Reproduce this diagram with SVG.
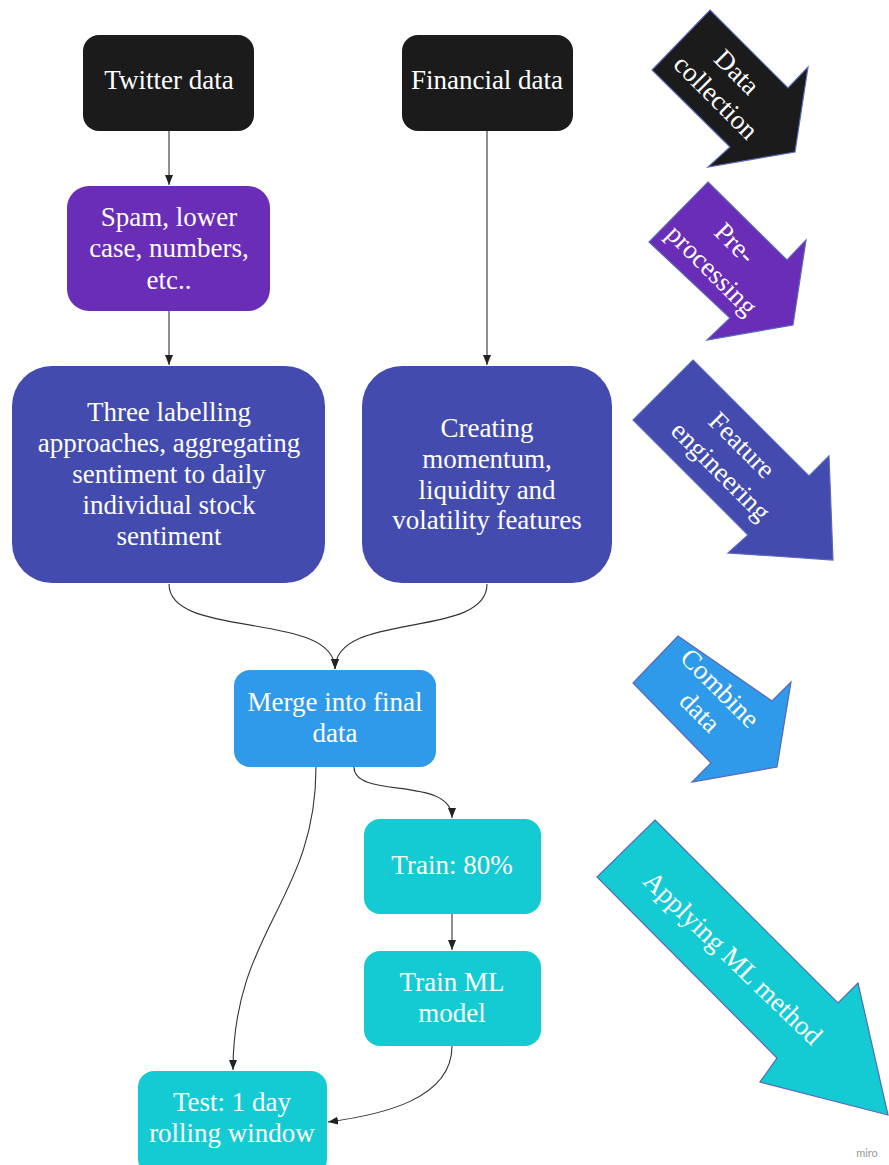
<svg xmlns="http://www.w3.org/2000/svg" width="889" height="1165" viewBox="0 0 889 1165">
<defs>
<style>
.t{font-family:"Liberation Serif","Times New Roman",serif;font-size:27px;fill:#ffffff;text-anchor:middle}
.c{fill:none;stroke:#333333;stroke-width:1.1}
.ba{stroke:#5a67b8;stroke-width:1.2;stroke-linejoin:miter}
</style>
<marker id="ah" markerWidth="10" markerHeight="8" refX="10" refY="4" orient="auto" markerUnits="userSpaceOnUse">
<path d="M0,0 L10,4 L0,8 z" fill="#222"/>
</marker>
</defs>
<rect width="889" height="1165" fill="#ffffff"/>

<g id="connectors">
<path class="c" d="M169,131 L169,185" marker-end="url(#ah)"/>
<path class="c" d="M169,311 L169,365" marker-end="url(#ah)"/>
<path class="c" d="M487,131 L487,365" marker-end="url(#ah)"/>
<path class="c" d="M169,584 C169,640 335,610 335,669" marker-end="url(#ah)"/>
<path class="c" d="M487,584 C487,640 335,610 335,669" marker-end="url(#ah)"/>
<path class="c" d="M354,767 C354,800 452,775 452,818" marker-end="url(#ah)"/>
<path class="c" d="M316,767 C316,900 233,930 233,1070" marker-end="url(#ah)"/>
<path class="c" d="M452,914 L452,950" marker-end="url(#ah)"/>
<path class="c" d="M452,1046 C452,1100 380,1115 328,1122" marker-end="url(#ah)"/>
</g>

<g id="twitter">
<rect x="83" y="35" width="171" height="96" rx="16" fill="#1b1b1b"/>
<text class="t" x="169" y="89">Twitter data</text>
</g>
<g id="financial">
<rect x="402" y="35" width="171" height="96" rx="16" fill="#1b1b1b"/>
<text class="t" x="487" y="89">Financial data</text>
</g>
<g id="spam">
<rect x="67" y="186" width="203" height="125" rx="22" fill="#6a2db7"/>
<text class="t" x="169" y="226">Spam, lower</text>
<text class="t" x="169" y="257">case, numbers,</text>
<text class="t" x="169" y="289">etc..</text>
</g>
<g id="labelling">
<rect x="12" y="366" width="313" height="217" rx="40" fill="#434baf"/>
<text class="t" x="169" y="421">Three labelling</text>
<text class="t" x="169" y="452">approaches, aggregating</text>
<text class="t" x="169" y="483">sentiment to daily</text>
<text class="t" x="169" y="514">individual stock</text>
<text class="t" x="169" y="545">sentiment</text>
</g>
<g id="features">
<rect x="362" y="366" width="250" height="217" rx="40" fill="#434baf"/>
<text class="t" x="487" y="437">Creating</text>
<text class="t" x="487" y="468">momentum,</text>
<text class="t" x="487" y="499">liquidity and</text>
<text class="t" x="487" y="529">volatility features</text>
</g>
<g id="merge">
<rect x="234" y="670" width="202" height="97" rx="16" fill="#2e9ae9"/>
<text class="t" x="335" y="711">Merge into final</text>
<text class="t" x="335" y="742">data</text>
</g>
<g id="train80">
<rect x="364" y="819" width="177" height="95" rx="16" fill="#14cbd3"/>
<text class="t" x="452" y="874">Train: 80%</text>
</g>
<g id="trainml">
<rect x="364" y="951" width="177" height="95" rx="16" fill="#14cbd3"/>
<text class="t" x="452" y="991">Train ML</text>
<text class="t" x="452" y="1022">model</text>
</g>
<g id="test">
<rect x="138" y="1071" width="189" height="104" rx="16" fill="#14cbd3"/>
<text class="t" x="232" y="1111">Test: 1 day</text>
<text class="t" x="232" y="1142">rolling window</text>
</g>

<g id="stage-data-collection">
<polygon class="ba" points="710,10 788,88 808,67 795,152 708,167 730,147 652,70" fill="#1b1b1b" stroke="#3a3f7a"/>
<text class="t" transform="translate(737,72) rotate(45)" y="9">Data</text>
<text class="t" transform="translate(716,97) rotate(45)" y="9">collection</text>
</g>
<g id="stage-preprocessing">
<polygon class="ba" points="708,182 787,260 806,240 793,325 707,340 730,318 649,242" fill="#6a2db7"/>
<text class="t" transform="translate(735,243) rotate(45)" y="9">Pre-</text>
<text class="t" transform="translate(712,270) rotate(45)" y="9">processing</text>
</g>
<g id="stage-feature-engineering">
<polygon class="ba" points="693,360 809,476 829,456 833,560 728,553 748,535 633,420" fill="#434baf"/>
<text class="t" transform="translate(742,445) rotate(45)" y="9">Feature</text>
<text class="t" transform="translate(721,471) rotate(45)" y="9">engineering</text>
</g>
<g id="stage-combine">
<polygon class="ba" points="678,636 772,701 791,682 777,767 692,782 711,763 633,683" fill="#2e9ae9"/>
<text class="t" transform="translate(720,688) rotate(45)" y="9">Combine</text>
<text class="t" transform="translate(700,712) rotate(45)" y="9">data</text>
</g>
<g id="stage-ml">
<polygon class="ba" points="655,820 838,1003 858,983 888,1115 760,1082 777,1058 597,877" fill="#14cbd3"/>
<text class="t" transform="translate(733,958) rotate(44)" y="9">Applying ML method</text>
</g>

<text x="867" y="1157" font-family="Lato,'Liberation Sans',sans-serif" font-size="11" fill="#9a9a9a" text-anchor="middle">miro</text>
</svg>
